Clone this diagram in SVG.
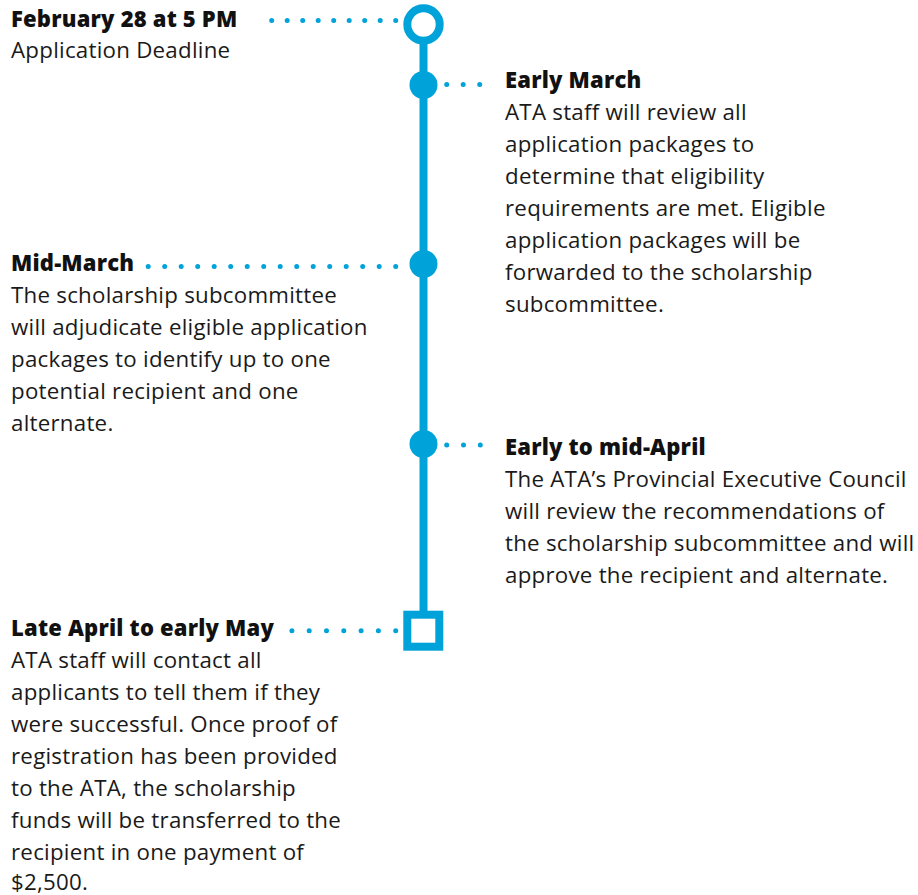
<svg xmlns="http://www.w3.org/2000/svg" width="918" height="895" viewBox="0 0 918 895">
<style>
.t{font-family:"Open Sans","Lato",sans-serif;font-size:22px;font-weight:800;letter-spacing:0.2px;fill:#111;}
.b{font-family:"Open Sans","Lato",sans-serif;font-size:22.3px;font-weight:400;letter-spacing:0.25px;fill:#1a1a1a;}
.dot{stroke:#00a3d9;stroke-width:5;stroke-linecap:round;fill:none;}
.blue{fill:#00a3d9;}
</style>
<rect width="918" height="895" fill="#ffffff"/>
<g id="connectors">
<line x1="423.5" y1="40" x2="423.5" y2="612" stroke="#00a3d9" stroke-width="8"/>
<line class="dot" x1="395.7" y1="20.5" x2="270" y2="20.5" stroke-dasharray="0 15.5"/>
<line class="dot" x1="446.7" y1="84.5" x2="482" y2="84.5" stroke-dasharray="0 16.5"/>
<line class="dot" x1="395.7" y1="266.5" x2="147" y2="266.5" stroke-dasharray="0 16.5"/>
<line class="dot" x1="446.7" y1="445" x2="482" y2="445" stroke-dasharray="0 16.8"/>
<line class="dot" x1="395.7" y1="630.7" x2="290" y2="630.7" stroke-dasharray="0 17.3"/>
</g>
<g id="node-deadline">
<circle cx="423.5" cy="24.5" r="16.2" fill="#ffffff" stroke="#00a3d9" stroke-width="8"/>
<text class="t" x="11" y="27">February 28 at 5 PM</text>
<text class="b" x="11" y="58">Application Deadline</text>
</g>
<g id="node-early-march">
<circle class="blue" cx="423.5" cy="85" r="14"/>
<text class="t" x="505" y="88">Early March</text>
<text class="b" x="505" y="120">ATA staff will review all</text>
<text class="b" x="505" y="152">application packages to</text>
<text class="b" x="505" y="184">determine that eligibility</text>
<text class="b" x="505" y="216">requirements are met. Eligible</text>
<text class="b" x="505" y="248">application packages will be</text>
<text class="b" x="505" y="280">forwarded to the scholarship</text>
<text class="b" x="505" y="312">subcommittee.</text>
</g>
<g id="node-mid-march">
<circle class="blue" cx="423.5" cy="264" r="14"/>
<text class="t" x="11" y="271">Mid-March</text>
<text class="b" x="11" y="303">The scholarship subcommittee</text>
<text class="b" x="11" y="335">will adjudicate eligible application</text>
<text class="b" x="11" y="367">packages to identify up to one</text>
<text class="b" x="11" y="399">potential recipient and one</text>
<text class="b" x="11" y="431">alternate.</text>
</g>
<g id="node-april">
<circle class="blue" cx="423.5" cy="444" r="14"/>
<text class="t" x="505" y="455">Early to mid-April</text>
<text class="b" x="505" y="487">The ATA’s Provincial Executive Council</text>
<text class="b" x="505" y="519">will review the recommendations of</text>
<text class="b" x="505" y="551">the scholarship subcommittee and will</text>
<text class="b" x="505" y="583">approve the recipient and alternate.</text>
</g>
<g id="node-may">
<rect x="407.3" y="614.7" width="32" height="32" fill="#ffffff" stroke="#00a3d9" stroke-width="8"/>
<text class="t" x="11" y="636">Late April to early May</text>
<text class="b" x="11" y="668">ATA staff will contact all</text>
<text class="b" x="11" y="700">applicants to tell them if they</text>
<text class="b" x="11" y="732">were successful. Once proof of</text>
<text class="b" x="11" y="764">registration has been provided</text>
<text class="b" x="11" y="796">to the ATA, the scholarship</text>
<text class="b" x="11" y="828">funds will be transferred to the</text>
<text class="b" x="11" y="860">recipient in one payment of</text>
<text class="b" x="11" y="890">$2,500.</text>
</g>
</svg>
